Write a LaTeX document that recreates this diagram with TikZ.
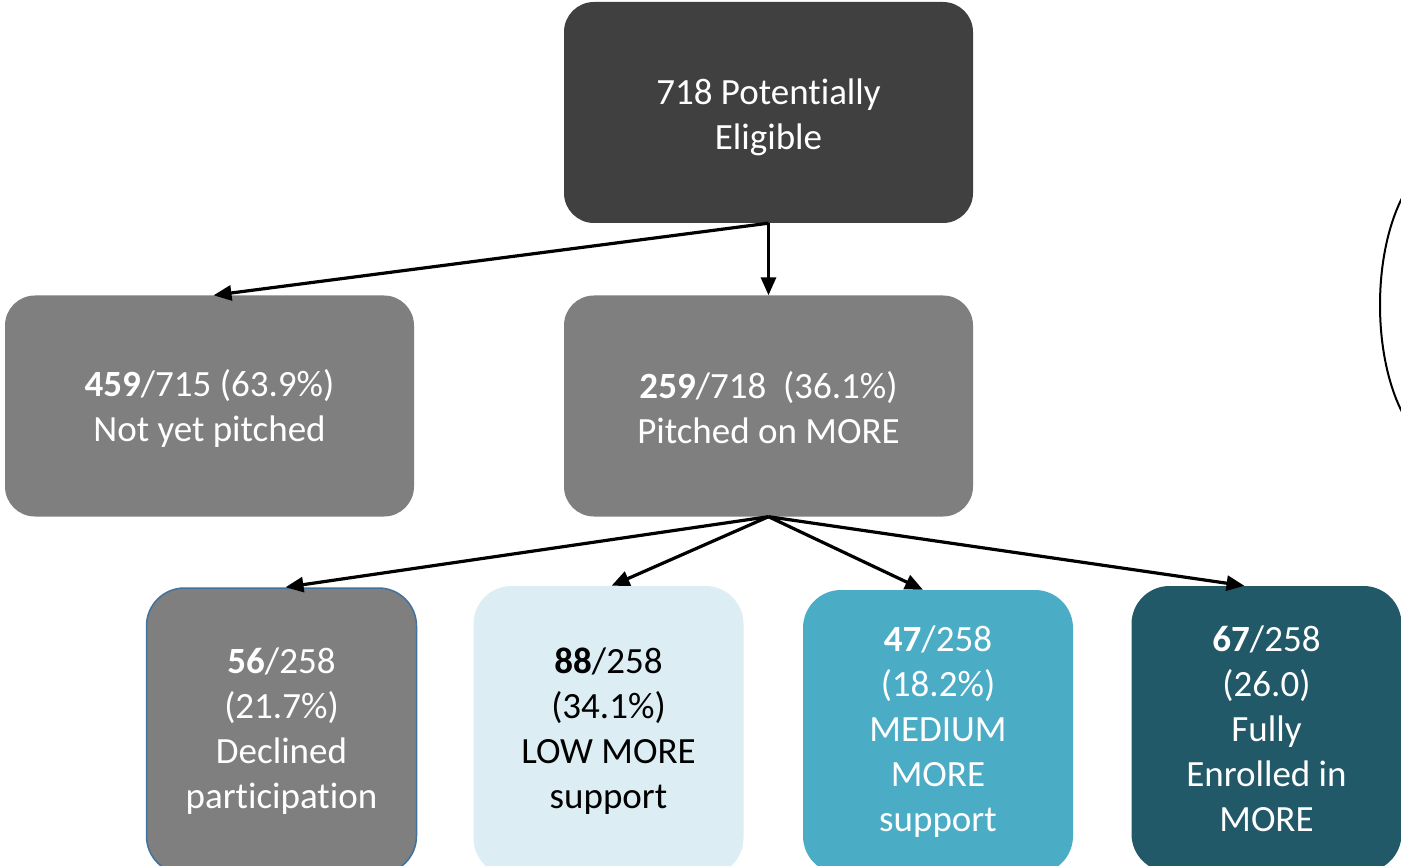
\documentclass[tikz,border=0pt]{standalone}
\usepackage{fontspec}
\setmainfont{Carlito}[Ligatures=NoCommon]
\usetikzlibrary{arrows.meta,calc}
\definecolor{topgray}{HTML}{404040}
\definecolor{midgray}{HTML}{7F7F7F}
\definecolor{lightblue}{HTML}{DCEEF4}
\definecolor{medblue}{HTML}{4BACC6}
\definecolor{darkteal}{HTML}{215968}
\definecolor{edgeblue}{HTML}{41719C}
\tikzset{
  box/.style={rectangle, rounded corners=30pt, minimum width=409pt, minimum height=221pt,
    align=center, text=white, font=\fontsize{37}{45}\selectfont, inner sep=0pt},
  lowbox/.style={rectangle, rounded corners=38pt, minimum width=270pt, align=center,
    font=\fontsize{37}{45}\selectfont, inner sep=0pt},
  arr/.style={line width=3.2pt, -{Triangle[length=18pt,width=15pt]}}
}
\begin{document}
\begin{tikzpicture}[x=1pt,y=-1pt]
\useasboundingbox (0,0) rectangle (1401,866);
\clip (0,0) rectangle (1401,866);
\fill[white] (0,0) rectangle (1401,866);
% top
\node[box, fill=topgray] (top) at (768.5,112.5) {};
\node[align=center, text=white, font=\fontsize{37}{45}\selectfont, inner sep=0pt] (toptext) at (768.5,117) {718 Potentially\\Eligible};
% level 2
\node[box, fill=midgray] (nyp) at (209.5,406) {};
\node[align=center, text=white, font=\fontsize{37}{45}\selectfont, inner sep=0pt] (nyptext) at (209.5,408) {\textbf{459}/715 (63.9\%)\\Not yet pitched};
\node[box, fill=midgray] (pom) at (768.5,406) {};
\node[align=center, text=white, font=\fontsize{37}{45}\selectfont, inner sep=0pt] (pomtext) at (768.5,408) {\textbf{259}/718~~(36.1\%)\\Pitched on MORE};
% level 3
\node[lowbox, fill=midgray, draw=edgeblue, line width=1.5pt, text=white, minimum height=286pt] (dec) at (281.5,731) {\textbf{56}/258\\(21.7\%)\\Declined\\participation};
\node[lowbox, fill=lightblue, text=black, minimum height=290pt] (low) at (608.5,731) {\textbf{88}/258\\(34.1\%)\\LOW MORE\\support};
\node[lowbox, fill=medblue, text=white, minimum height=284pt] (med) at (938,732) {\textbf{47}/258\\(18.2\%)\\MEDIUM\\MORE\\support};
\node[lowbox, fill=darkteal, text=white, minimum height=286pt] (full) at (1266.5,729) {\textbf{67}/258\\(26.0)\\Fully\\Enrolled in\\MORE};
% arrows
\draw[arr] (top.south) -- ($(nyp.north)+(4,0)$);
\draw[arr] (top.south) -- (pom.north);
\draw[arr] (pom.south) -- ($(dec.north)+(4,0)$);
\draw[arr] (pom.south) -- ($(low.north)+(3,0)$);
\draw[arr] (pom.south) -- ($(med.north)+(-15,0)$);
\draw[arr] (pom.south) -- ($(full.north)+(-22,0)$);
% partial ellipse at right edge
\draw[line width=2pt] (1450,305) ellipse [x radius=70, y radius=147];
\end{tikzpicture}
\end{document}
